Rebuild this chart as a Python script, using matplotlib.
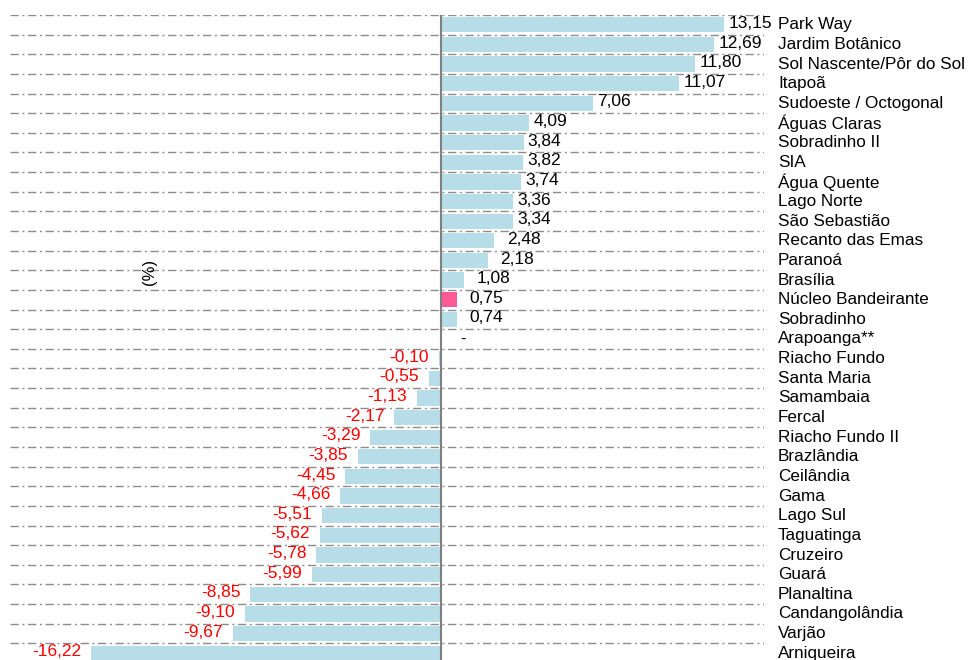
import numpy as np
import matplotlib
matplotlib.use('Agg')
import matplotlib.pyplot as plt
from matplotlib.transforms import blended_transform_factory

plt.rcParams['font.family'] = ['Liberation Sans', 'DejaVu Sans']
plt.rcParams['lines.scale_dashes'] = False

regions = ['Park Way', 'Jardim Botânico', 'Sol Nascente/Pôr do Sol', 'Itapoã',
           'Sudoeste / Octogonal', 'Águas Claras', 'Sobradinho II', 'SIA',
           'Água Quente', 'Lago Norte', 'São Sebastião', 'Recanto das Emas',
           'Paranoá', 'Brasília', 'Núcleo Bandeirante', 'Sobradinho',
           'Arapoanga**', 'Riacho Fundo', 'Santa Maria', 'Samambaia', 'Fercal',
           'Riacho Fundo II', 'Brazlândia', 'Ceilândia', 'Gama', 'Lago Sul',
           'Taguatinga', 'Cruzeiro', 'Guará', 'Planaltina', 'Candangolândia',
           'Varjão', 'Arniqueira']
values = [13.15, 12.69, 11.80, 11.07, 7.06, 4.09, 3.84, 3.82, 3.74, 3.36, 3.34,
          2.48, 2.18, 1.08, 0.75, 0.74, np.nan, -0.10, -0.55, -1.13, -2.17,
          -3.29, -3.85, -4.45, -4.66, -5.51, -5.62, -5.78, -5.99, -8.85, -9.10,
          -9.67, -16.22]
highlight = 'Núcleo Bandeirante'

fig = plt.figure(figsize=(9.7, 6.6), dpi=100)
ax = fig.add_axes([10 / 970, -3 / 660, 754 / 970, 648 / 660])

n = len(regions)
y = np.arange(n)
vals = np.nan_to_num(np.array(values, dtype=float))
colors = ['#ff5a96' if r == highlight else '#b7dde8' for r in regions]
ax.barh(y, vals, height=0.78, color=colors, zorder=2)

# dash-dot separators between rows
ax.hlines(np.arange(n + 1) - 0.5, -20, 15, colors='#8c8c8c', linewidth=1.0,
          linestyles=(0, (6, 2.6, 1.4, 2.6)), zorder=1)
ax.axvline(0, color='#808080', linewidth=1.5, zorder=3)

for yi, v, r in zip(y, values, regions):
    if np.isnan(v):
        ax.annotate('-', (0, yi), xytext=(14, 0), textcoords='offset points',
                    ha='left', va='center', fontsize=12, color='black')
    elif v >= 0:
        # short bars get their label pushed a bit further out
        off = 3 if v > 3 else 9
        ax.annotate(f'{v:.2f}'.replace('.', ','), (v, yi), xytext=(off, 1),
                    textcoords='offset points', ha='left', va='center',
                    fontsize=12.5, color='black')
    else:
        ax.annotate(f'{v:.2f}'.replace('.', ','), (v, yi), xytext=(-7, 1),
                    textcoords='offset points', ha='right', va='center',
                    fontsize=12.5, color='red')

trans = blended_transform_factory(fig.transFigure, ax.transData)
for yi, r in zip(y, regions):
    ax.text(778 / 970, yi, r, transform=trans, ha='left', va='center',
            fontsize=12.3, color='black', clip_on=False)

fig.text(150 / 970, 1 - 272 / 660, '(%)', rotation=90, ha='center',
         va='center', fontsize=12)

ax.set_xlim(-20, 15)
ax.set_ylim(n - 0.5, -0.5)
ax.axis('off')

fig.savefig('out.png', dpi=100)
